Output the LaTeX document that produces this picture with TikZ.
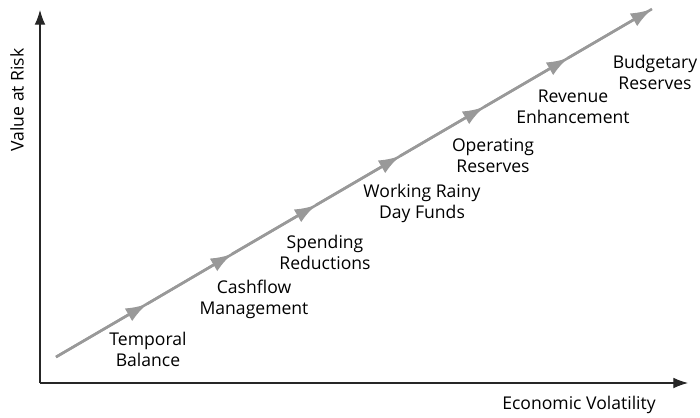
\documentclass[tikz,border=0pt]{standalone}
\usepackage{fontspec}
\setmainfont{Open Sans}
\usetikzlibrary{arrows.meta}

\begin{document}
\begin{tikzpicture}[x=0.03cm,y=-0.03cm,
  axis/.style={line width=0.9pt,black!85,-{Latex[length=4.4mm,width=3.2mm]}},
  stage/.style={line width=2.2pt,black!40,-{Latex[length=6.4mm,width=4.4mm]}},
  lbl/.style={align=center,font=\fontsize{15}{18}\selectfont,inner sep=0pt}]
\useasboundingbox (0,0) rectangle (700,417);

% Axes
\coordinate (o) at (40,383);
\coordinate (ytop) at (40,10);
\coordinate (xend) at (688,383);
\draw[axis] (o) -- (ytop);
\draw[axis] (o) -- (xend);
\node[lbl,rotate=90] (vrisk) at (17,100) {Value at Risk};
\node[lbl] (evol) at (579,405) {Economic Volatility};

% Stages along the line
\coordinate (c0) at (56,357);
\foreach \x/\y [count=\i] in {147/304,232/254,316/205,400/156,484/107,568/58,652/9}
  \coordinate (c\i) at (\x,\y);
\draw[line width=2.2pt,black!40] (c0) -- (c7);
\foreach \i [count=\j from 0] in {1,...,7}
  \draw[stage] (c\j) -- (c\i);

% Labels
\node[lbl] (temporal) at (148,349) {Temporal\\Balance};
\node[lbl] (cashflow) at (254,299) {Cashflow\\Management};
\node[lbl] (spending) at (325,252) {Spending\\Reductions};
\node[lbl] (rainy) at (422,203) {Working Rainy\\Day Funds};
\node[lbl] (operating) at (493,156) {Operating\\Reserves};
\node[lbl] (revenue) at (573,107) {Revenue\\Enhancement};
\node[lbl] (budget) at (655,72) {Budgetary\\Reserves};
\end{tikzpicture}
\end{document}
